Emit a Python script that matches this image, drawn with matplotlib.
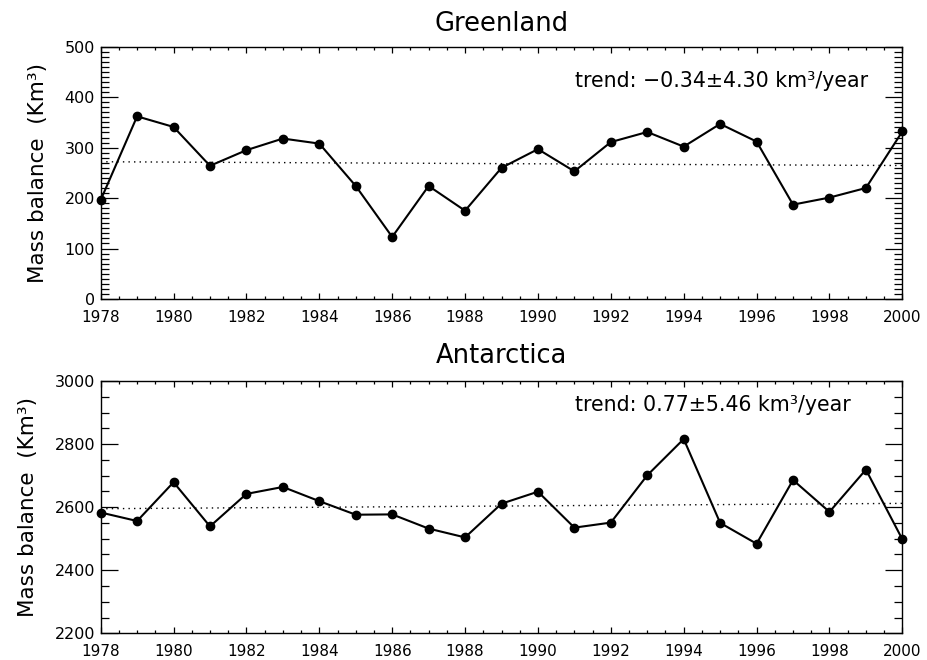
import numpy as np
import matplotlib
matplotlib.use("Agg")
import matplotlib.pyplot as plt
from matplotlib.ticker import MultipleLocator

plt.rcParams['font.family'] = ['DejaVu Sans']

years = np.arange(1978, 2001)

greenland = [196, 362, 341, 264, 295, 318, 308, 224, 123, 224, 175, 260,
             297, 253, 311, 331, 302, 347, 312, 187, 201, 220, 332]
antarctica = [2583, 2556, 2679, 2539, 2642, 2664, 2619, 2576, 2577, 2532, 2504, 2611,
              2649, 2535, 2551, 2701, 2816, 2550, 2484, 2686, 2585, 2719, 2498]

# linear trend: value at 1978, slope (km3/yr), error
greenland_trend = (272.0, -0.34, 4.30)
antarctica_trend = (2595.0, 0.77, 5.46)

panels = [
    dict(name='Greenland', data=greenland, trend=greenland_trend,
         ylim=(0, 500), ymajor=100, yminor=10, rect=[0.1086, 0.547, 0.8648, 0.3822],
         text_y=0.865, labelpad=12, titlepad=11.5),
    dict(name='Antarctica', data=antarctica, trend=antarctica_trend,
         ylim=(2200, 3000), ymajor=200, yminor=50, rect=[0.1086, 0.0405, 0.8648, 0.3822],
         text_y=0.905, labelpad=12, titlepad=13),
]

fig = plt.figure(figsize=(9.27, 6.6), dpi=100)

for p in panels:
    ax = fig.add_axes(p['rect'])
    start, slope, err = p['trend']
    trend_line = start + slope * (years - years[0])

    ax.plot(years, trend_line, color='black', linestyle=(0, (1, 3)), linewidth=1.0)
    ax.plot(years, p['data'], color='black', linewidth=1.5, marker='o',
            markersize=6, clip_on=False, zorder=3)

    ax.set_xlim(1978, 2000)
    ax.set_ylim(*p['ylim'])
    ax.xaxis.set_major_locator(MultipleLocator(2))
    ax.xaxis.set_minor_locator(MultipleLocator(0.5))
    ax.yaxis.set_major_locator(MultipleLocator(p['ymajor']))
    ax.yaxis.set_minor_locator(MultipleLocator(p['yminor']))

    ax.tick_params(axis='both', which='both', direction='in', top=True, right=True,
                   width=0.9, color='black')
    ax.tick_params(axis='x', which='major', length=4, pad=8, labelsize=11)
    ax.tick_params(axis='x', which='minor', length=2)
    ax.tick_params(axis='y', which='major', length=12, pad=4, labelsize=11.5)
    ax.tick_params(axis='y', which='minor', length=6)
    for s in ax.spines.values():
        s.set_linewidth(1.0)

    ax.set_ylabel('Mass balance  (Km³)', fontsize=15.5, labelpad=p['labelpad'])
    ax.set_title(p['name'], fontsize=18.5, pad=p['titlepad'])

    sign = '−' if slope < 0 else ''
    ax.text(0.592, p['text_y'], f'trend: {sign}{abs(slope):.2f}±{err:.2f} km³/year',
            transform=ax.transAxes, fontsize=14.8, ha='left', va='center')

fig.savefig('out.png', dpi=100)
